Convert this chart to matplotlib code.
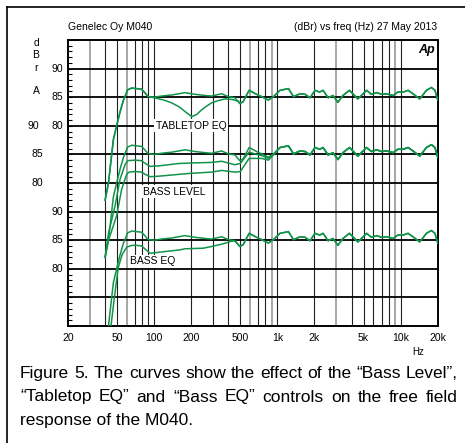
import numpy as np
import matplotlib.pyplot as plt
from matplotlib.lines import Line2D
from matplotlib.ticker import MultipleLocator

plt.rcParams['font.family'] = ['Liberation Sans', 'DejaVu Sans']

W, H = 465, 443
GREEN = '#12934a'

# reference response (dBr, top panel units)
main_f = [40, 42.6, 46.7, 50, 53, 56.4, 61, 66, 72, 79, 84, 89.5, 100, 115, 140, 178, 215,
          260, 292, 353, 400, 452, 496, 527, 590, 679, 745, 845, 930, 1050, 1230, 1350,
          1530, 1680, 1840, 2020, 2200, 2350, 2580, 2830, 3100, 3400, 3850, 4500, 5300,
          5800, 6400, 7000, 7700, 8700, 9500, 10500, 11500, 12600, 14300, 16200, 17800,
          19000, 20000]
main_db = [67, 70, 77.6, 80.3, 82.5, 84.5, 86.3, 86.6, 86.5, 86.4, 85.8, 85.1, 85.0, 85.2,
           85.4, 85.8, 85.5, 85.3, 85.2, 85.6, 85.1, 84.9, 83.9, 84.2, 86.2, 85.5, 85.1,
           84.5, 85.1, 86.2, 86.5, 85.1, 85.6, 85.5, 84.9, 86.2, 85.9, 86.2, 84.9, 85.3,
           84.1, 85.3, 86.2, 84.7, 86.2, 85.5, 85.8, 85.5, 85.6, 85.3, 85.9, 85.9, 86.2,
           85.6, 84.7, 86.2, 86.7, 86.2, 84.5]

# tabletop EQ dip (100 - 500 Hz)
tt_f = [100, 120, 139, 160, 178, 202, 222, 243, 265, 292, 330, 375, 430, 483]
tt_db = [84.9, 84.5, 84.0, 83.3, 82.5, 81.6, 82.0, 82.8, 83.4, 84.0, 84.4, 84.7, 84.6, 84.3]

# bass level settings (up to ~1 kHz)
bl1_f = [42.6, 48.2, 52.8, 58, 61, 70, 79, 85, 93, 110, 157, 200, 292, 353, 450, 500,
         590, 679, 745, 845, 930]
bl1_db = [71.2, 76.0, 80.6, 83.2, 83.9, 84.0, 83.9, 83.4, 82.9, 83.0, 83.4, 83.5, 83.6,
          83.8, 83.2, 83.4, 85.4, 85.0, 84.8, 84.3, 85.0]
bl2_f = [45, 49.5, 54.5, 59.8, 62.4, 70, 79, 85, 93, 110, 157, 200, 292, 353, 450, 500,
         590, 679, 745, 845, 930]
bl2_db = [71.5, 74.2, 78.9, 81.5, 81.9, 82.0, 81.9, 81.5, 81.1, 81.2, 81.5, 81.7, 81.9,
          82.2, 81.9, 82.0, 84.3, 84.3, 84.3, 84.0, 84.9]

# bass EQ (up to ~450 Hz)
beq_f = [43.5, 47, 51, 55, 60, 66, 72, 79, 85, 93, 110, 161, 178, 250, 292, 353, 420, 452]
beq_db = [68, 74, 80.1, 82.5, 83.8, 84.1, 84.1, 84.0, 83.4, 82.7, 82.9, 83.3, 83.5, 83.6,
          83.9, 84.3, 84.8, 84.9]

panel_offset = [0, -10, -25]
freq_ticks = [20, 50, 100, 200, 500, 1000, 2000, 5000, 10000, 20000]
freq_labels = ['20', '50', '100', '200', '500', '1k', '2k', '5k', '10k', '20k']
grey_lines = [30, 60, 600, 900, 3000, 9000]


def px(x, y):
    return x / W, 1 - y / H


def join(fa, da, fb, db):
    # splice segment b into curve a
    lo, hi = fb[0], fb[-1]
    f = [v for v in fa if v < lo] + list(fb) + [v for v in fa if v > hi]
    d = [d for v, d in zip(fa, da) if v < lo] + list(db) + [d for v, d in zip(fa, da) if v > hi]
    return f, d


fig = plt.figure(figsize=(W / 100, H / 100), dpi=100)
l, r, t, b = 68, 437.7, 40, 326
ax = fig.add_axes([l / W, 1 - b / H, (r - l) / W, (b - t) / H])
ax.set_xscale('log')
ax.set_xlim(20, 20000)
ax.set_ylim(45, 95)

for dec in [10, 100, 1000, 10000]:
    for k in range(1, 10):
        f = dec * k
        if f <= 20 or f >= 20000:
            continue
        if f in grey_lines:
            ax.axvline(f, color='#a0a0a0', lw=1.3, zorder=1)
        else:
            ax.axvline(f, color='#222222', lw=0.8, zorder=1)
for y in range(50, 95, 5):
    ax.axhline(y, color='black', lw=1.3, zorder=1)

ax.set_yticks([])
ax.yaxis.set_minor_locator(MultipleLocator(1))
ax.tick_params(axis='y', which='minor', direction='in', length=3, width=0.8,
               left=True, right=False)
ax.set_xticks(freq_ticks, freq_labels)
ax.xaxis.set_minor_locator(plt.NullLocator())
ax.tick_params(axis='x', length=0, pad=5, labelsize=7.5)
for s in ax.spines.values():
    s.set_linewidth(1.4)

curves = [
    (0, main_f, main_db),
    (0, *join(main_f, main_db, tt_f, tt_db)),
    (1, main_f, main_db),
    (1, *join(main_f, main_db, bl1_f, bl1_db)),
    (1, *join(main_f, main_db, bl2_f, bl2_db)),
    (2, main_f, main_db),
    (2, *join(main_f, main_db, beq_f, beq_db)),
]
for p, f, d in curves:
    ax.plot(f, np.array(d) + panel_offset[p], color=GREEN, lw=1.1, zorder=4)

box = dict(facecolor='white', edgecolor='none', pad=1.2)
ax.text(199, 80, 'TABLETOP EQ', fontsize=7.5, ha='center', va='center', bbox=box, zorder=3)
ax.text(145, 68.5, 'BASS LEVEL', fontsize=7.5, ha='center', va='center', bbox=box, zorder=3)
ax.text(97, 56.3, 'BASS EQ', fontsize=7.5, ha='center', va='center', bbox=box, zorder=3)
fig.text(*px(435, 50), 'Ap', fontsize=9, fontweight='bold', fontstyle='italic',
         ha='right', va='center')

# y labels for the three stacked panels
ylab = [(63, 69, '90'), (63, 97, '85'), (63, 126, '80'), (39, 126, '90'),
        (43, 154, '85'), (43, 183, '80'), (63, 212, '90'), (63, 240, '85'), (63, 269, '80')]
for x, y, s in ylab:
    fig.text(*px(x, y), s, fontsize=7.5, ha='right', va='center')
for y, s in [(43, 'd'), (55, 'B'), (68, 'r'), (91, 'A')]:
    fig.text(*px(36, y), s, fontsize=7.5, ha='center', va='center')

fig.text(*px(68, 27), 'Genelec Oy M040', fontsize=7.5, ha='left', va='center')
fig.text(*px(437, 27), '(dBr) vs freq (Hz) 27 May 2013', fontsize=7.5, ha='right', va='center')
fig.text(*px(418, 352), 'Hz', fontsize=7, ha='center', va='center')

# frame
fig.add_artist(Line2D([6.5 / W, 1], [1 - 7 / H] * 2, color='black', lw=1.2))
fig.add_artist(Line2D([6.5 / W] * 2, [0, 1 - 7 / H], color='black', lw=1.2))

# caption, justified
cap = ['Figure 5. The curves show the effect of the \u201cBass Level\u201d,',
       '\u201cTabletop EQ\u201d and \u201cBass EQ\u201d controls on the free field',
       'response of the M040.']
cap_y = [378, 401.5, 425]
fs = 12.5
rend = fig.canvas.get_renderer()
for i, (line, y) in enumerate(zip(cap, cap_y)):
    if i == len(cap) - 1:
        fig.text(*px(20, y), line, fontsize=fs, va='baseline')
        continue
    words = line.split(' ')
    ts = [fig.text(0, 0, w, fontsize=fs, va='baseline') for w in words]
    ws = [tx.get_window_extent(rend).width for tx in ts]
    gap = (458 - 20 - sum(ws)) / (len(words) - 1)
    x = 20
    for tx, w in zip(ts, ws):
        tx.set_position(px(x, y))
        x += w + gap

fig.savefig('out.png', dpi=100)
